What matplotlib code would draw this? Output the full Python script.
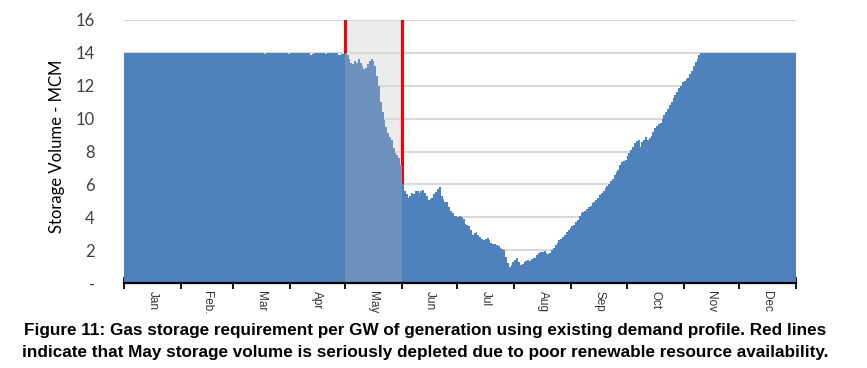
import numpy as np
import matplotlib
matplotlib.use("Agg")
import matplotlib.pyplot as plt

# ---- data (daily storage volume, MCM) ----
months = ["Jan", "Feb.", "Mar", "Apr", "May", "Jun", "Jul", "Aug", "Sep", "Oct", "Nov", "Dec"]
month_days = [31, 28, 31, 30, 31, 30, 31, 31, 30, 31, 30, 31]

jan = [14.0, 14.0, 14.0, 14.0, 14.0, 14.0, 14.0, 14.0, 14.0, 14.0,
       14.0, 14.0, 14.0, 14.0, 14.0, 14.0, 14.0, 14.0, 14.0, 14.0,
       14.0, 14.0, 14.0, 14.0, 14.0, 14.0, 14.0, 14.0, 14.0, 14.0, 14.0]
feb = [14.0, 14.0, 14.0, 14.0, 14.0, 14.0, 14.0, 14.0, 14.0, 14.0,
       14.0, 14.0, 14.0, 14.0, 14.0, 14.0, 14.0, 14.0, 14.0, 14.0,
       14.0, 14.0, 14.0, 14.0, 14.0, 14.0, 14.0, 14.0]
mar = [14.0, 14.0, 14.0, 14.0, 14.0, 14.0, 14.0, 14.0, 14.0, 14.0,
       14.0, 14.0, 14.0, 14.0, 14.0, 14.0, 14.0, 13.95, 14.0, 14.0,
       14.0, 14.0, 14.0, 13.97, 14.0, 14.0, 14.0, 14.0, 14.0, 14.0, 13.95]
apr = [14.0, 14.0, 14.0, 14.0, 14.0, 14.0, 14.0, 14.0, 14.0, 14.0,
       14.0, 13.85, 13.95, 14.0, 14.0, 14.0, 14.0, 14.0, 14.0, 13.95,
       14.0, 14.0, 14.0, 14.0, 14.0, 14.0, 13.9, 13.9, 13.92, 13.95]
may = [14.0, 13.9, 13.6, 13.4, 13.3, 13.5, 13.4, 13.6, 13.4, 13.2,
       13.0, 13.1, 13.3, 13.5, 13.6, 13.5, 13.2, 12.6, 12.0, 11.0,
       10.4, 9.9, 9.5, 9.1, 8.9, 8.7, 8.2, 7.9, 7.8, 7.6, 7.2]
jun = [6.0, 5.6, 5.4, 5.2, 5.3, 5.5, 5.4, 5.6, 5.6, 5.5,
       5.6, 5.65, 5.5, 5.3, 5.05, 5.1, 5.2, 5.4, 5.55, 5.7,
       5.85, 5.3, 5.1, 4.9, 4.9, 4.6, 4.4, 4.25, 4.1, 4.05]
jul = [4.0, 4.1, 4.0, 3.9, 3.6, 3.5, 3.45, 3.2, 2.95, 3.05,
       3.1, 2.9, 2.8, 2.7, 2.6, 2.7, 2.75, 2.6, 2.45, 2.4,
       2.35, 2.3, 2.25, 2.1, 2.05, 2.0, 1.6, 1.2, 0.97, 1.1, 1.3]
aug = [1.4, 1.5, 1.3, 1.1, 1.15, 1.3, 1.35, 1.4, 1.35, 1.45,
       1.5, 1.55, 1.7, 1.8, 1.9, 1.9, 1.95, 1.85, 1.75, 1.8,
       2.0, 2.15, 2.3, 2.45, 2.6, 2.7, 2.8, 2.95, 3.1, 3.2, 3.35]
sep = [3.45, 3.55, 3.7, 3.85, 4.1, 4.25, 4.3, 4.4, 4.5, 4.6,
       4.7, 4.85, 4.95, 5.05, 5.2, 5.35, 5.5, 5.6, 5.75, 5.9,
       6.05, 6.2, 6.35, 6.55, 6.75, 6.9, 7.2, 7.35, 7.45, 7.5]
oct_ = [7.7, 7.9, 8.1, 8.3, 8.5, 8.65, 8.7, 8.3, 8.55, 8.7,
        8.9, 8.7, 8.85, 8.95, 9.2, 9.45, 9.55, 9.65, 9.75, 9.95,
        10.2, 10.4, 10.6, 10.8, 11.0, 11.25, 11.45, 11.65, 11.85, 12.0, 12.2]
nov = [12.3, 12.4, 12.5, 12.7, 12.9, 13.2, 13.45, 13.65, 13.85, 14.0,
       14.0, 14.0, 14.0, 14.0, 14.0, 14.0, 14.0, 14.0, 14.0, 14.0,
       14.0, 14.0, 14.0, 14.0, 14.0, 14.0, 14.0, 14.0, 14.0, 14.0]
dec = [14.0, 14.0, 14.0, 14.0, 14.0, 14.0, 14.0, 14.0, 14.0, 14.0,
       14.0, 14.0, 14.0, 14.0, 14.0, 14.0, 14.0, 14.0, 14.0, 14.0,
       14.0, 14.0, 14.0, 14.0, 14.0, 14.0, 14.0, 14.0, 14.0, 14.0, 14.0]

ytick_values = [0, 2, 4, 6, 8, 10, 12, 14, 16]
ytick_labels = ["-", "2", "4", "6", "8", "10", "12", "14", "16"]
highlight_month = "May"

caption_lines = [
    "Figure 11: Gas storage requirement per GW of generation using existing demand profile. Red lines",
    "indicate that May storage volume is seriously depleted due to poor renewable resource availability.",
]

# ---- assemble ----
values = np.array(jan + feb + mar + apr + may + jun + jul + aug + sep + oct_ + nov + dec)
edges = np.arange(len(values) + 1)
month_edges = np.concatenate([[0], np.cumsum(month_days)])
month_mid = (month_edges[:-1] + month_edges[1:]) / 2
hi = months.index(highlight_month)
hs, he = month_edges[hi], month_edges[hi + 1]

BLUE = "#4f81bd"
BLUE_LIGHT = "#6d92bf"

fig = plt.figure(figsize=(8.67, 3.68), dpi=100)
ax = fig.add_axes([124 / 867, 1 - 283 / 368, (796 - 124) / 867, (283 - 20) / 368])

ax.set_xlim(0, len(values))
ax.set_ylim(0, 16)

# highlight band & red lines
ax.axvspan(hs, he, color="#ececec", zorder=0.5, lw=0)
for xv in (hs, he):
    ax.axvline(xv, color="#ff0000", lw=2.2, zorder=1.0)

# grid
for yv in ytick_values[1:]:
    ax.axhline(yv, color="#d9d9d9", lw=1.5, zorder=0.8)

# data
ax.stairs(values, edges, fill=True, color=BLUE, lw=0, zorder=2)
ax.stairs(values[hs:he], edges[hs:he + 1], fill=True, color=BLUE_LIGHT, lw=0, zorder=2.1)

# axes styling
for s in ("top", "right", "left"):
    ax.spines[s].set_visible(False)
ax.spines["bottom"].set_color("black")
ax.spines["bottom"].set_linewidth(1.6)
ax.spines["bottom"].set_zorder(3)

ax.set_xticks(month_edges)
ax.set_xticklabels([])
ax.tick_params(axis="x", which="major", direction="inout", length=9, width=1.3, color="black")
ax.set_xticks(month_mid, minor=True)
ax.set_xticklabels(months, minor=True, rotation=270, fontsize=8.5,
                   family=["Liberation Sans", "DejaVu Sans"], color="#333333")
ax.tick_params(axis="x", which="minor", length=0, pad=6)

ax.set_yticks(ytick_values)
ax.set_yticklabels(ytick_labels, fontsize=12, family=["Lato", "DejaVu Sans"], color="#404040")
ax.tick_params(axis="y", length=0, pad=21)

ax.set_ylabel("Storage Volume - MCM", fontsize=12, family=["Lato", "DejaVu Sans"], color="black")
ax.yaxis.set_label_coords(-0.088, 0.52)

for i, line in enumerate(caption_lines):
    fig.text(425 / 867, 1 - (330 + 22 * i) / 368, line, ha="center", va="center",
             fontsize=12.3, fontweight="bold",
             family=["Liberation Sans Narrow", "Liberation Sans", "DejaVu Sans"])

fig.savefig("out.png", dpi=100)
